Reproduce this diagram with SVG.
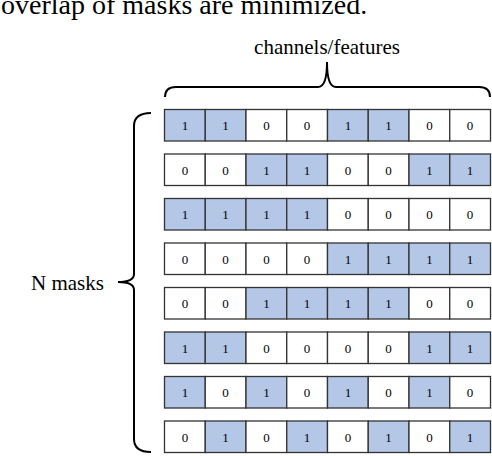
<svg xmlns="http://www.w3.org/2000/svg" width="492" height="456" viewBox="0 0 492 456">
<style>
.t{font-family:"Liberation Serif","Times New Roman",serif;fill:#000}
.c{stroke:#333;stroke-width:1.3}
.z{fill:#fff}
.o{fill:#b4c7e7}
.d{font-family:"Liberation Serif","Times New Roman",serif;font-size:13px;text-anchor:middle;fill:#000}
.br{fill:none;stroke:#000;stroke-width:2}
</style>
<rect width="492" height="456" fill="#fff"/>
<text class="t" x="1" y="13.5" font-size="28">overlap of masks are minimized.</text>
<text class="t" x="327" y="53.5" font-size="21" text-anchor="middle">channels/features</text>
<text class="t" x="31" y="289.5" font-size="21">N masks</text>
<g id="connectors">
<path class="br" d="M165,97 Q165,87 176,87 L318,87 Q327,87 327,62 Q327,87 336,87 L479,87 Q490,87 490,97"/>
<path class="br" d="M151,113 Q134,113 134,126 L134,274 Q134,282 118,282 Q134,282 134,290 L134,439 Q134,452 151,452"/>
</g>
<g id="row1" transform="translate(164.5,109.5)">
<rect class="c o" x="0" width="40.75" height="31.5"/><rect class="c o" x="40.75" width="40.75" height="31.5"/><rect class="c z" x="81.5" width="40.75" height="31.5"/><rect class="c z" x="122.25" width="40.75" height="31.5"/><rect class="c o" x="163" width="40.75" height="31.5"/><rect class="c o" x="203.75" width="40.75" height="31.5"/><rect class="c z" x="244.5" width="40.75" height="31.5"/><rect class="c z" x="285.25" width="40.75" height="31.5"/>
<text class="d" y="20.5"><tspan x="20.4">1</tspan><tspan x="61.1">1</tspan><tspan x="101.9">0</tspan><tspan x="142.6">0</tspan><tspan x="183.4">1</tspan><tspan x="224.1">1</tspan><tspan x="264.9">0</tspan><tspan x="305.6">0</tspan></text>
</g>
<g id="row2" transform="translate(164.5,154)">
<rect class="c z" x="0" width="40.75" height="31.5"/><rect class="c z" x="40.75" width="40.75" height="31.5"/><rect class="c o" x="81.5" width="40.75" height="31.5"/><rect class="c o" x="122.25" width="40.75" height="31.5"/><rect class="c z" x="163" width="40.75" height="31.5"/><rect class="c z" x="203.75" width="40.75" height="31.5"/><rect class="c o" x="244.5" width="40.75" height="31.5"/><rect class="c o" x="285.25" width="40.75" height="31.5"/>
<text class="d" y="20.5"><tspan x="20.4">0</tspan><tspan x="61.1">0</tspan><tspan x="101.9">1</tspan><tspan x="142.6">1</tspan><tspan x="183.4">0</tspan><tspan x="224.1">0</tspan><tspan x="264.9">1</tspan><tspan x="305.6">1</tspan></text>
</g>
<g id="row3" transform="translate(164.5,198.5)">
<rect class="c o" x="0" width="40.75" height="31.5"/><rect class="c o" x="40.75" width="40.75" height="31.5"/><rect class="c o" x="81.5" width="40.75" height="31.5"/><rect class="c o" x="122.25" width="40.75" height="31.5"/><rect class="c z" x="163" width="40.75" height="31.5"/><rect class="c z" x="203.75" width="40.75" height="31.5"/><rect class="c z" x="244.5" width="40.75" height="31.5"/><rect class="c z" x="285.25" width="40.75" height="31.5"/>
<text class="d" y="20.5"><tspan x="20.4">1</tspan><tspan x="61.1">1</tspan><tspan x="101.9">1</tspan><tspan x="142.6">1</tspan><tspan x="183.4">0</tspan><tspan x="224.1">0</tspan><tspan x="264.9">0</tspan><tspan x="305.6">0</tspan></text>
</g>
<g id="row4" transform="translate(164.5,243)">
<rect class="c z" x="0" width="40.75" height="31.5"/><rect class="c z" x="40.75" width="40.75" height="31.5"/><rect class="c z" x="81.5" width="40.75" height="31.5"/><rect class="c z" x="122.25" width="40.75" height="31.5"/><rect class="c o" x="163" width="40.75" height="31.5"/><rect class="c o" x="203.75" width="40.75" height="31.5"/><rect class="c o" x="244.5" width="40.75" height="31.5"/><rect class="c o" x="285.25" width="40.75" height="31.5"/>
<text class="d" y="20.5"><tspan x="20.4">0</tspan><tspan x="61.1">0</tspan><tspan x="101.9">0</tspan><tspan x="142.6">0</tspan><tspan x="183.4">1</tspan><tspan x="224.1">1</tspan><tspan x="264.9">1</tspan><tspan x="305.6">1</tspan></text>
</g>
<g id="row5" transform="translate(164.5,287.5)">
<rect class="c z" x="0" width="40.75" height="31.5"/><rect class="c z" x="40.75" width="40.75" height="31.5"/><rect class="c o" x="81.5" width="40.75" height="31.5"/><rect class="c o" x="122.25" width="40.75" height="31.5"/><rect class="c o" x="163" width="40.75" height="31.5"/><rect class="c o" x="203.75" width="40.75" height="31.5"/><rect class="c z" x="244.5" width="40.75" height="31.5"/><rect class="c z" x="285.25" width="40.75" height="31.5"/>
<text class="d" y="20.5"><tspan x="20.4">0</tspan><tspan x="61.1">0</tspan><tspan x="101.9">1</tspan><tspan x="142.6">1</tspan><tspan x="183.4">1</tspan><tspan x="224.1">1</tspan><tspan x="264.9">0</tspan><tspan x="305.6">0</tspan></text>
</g>
<g id="row6" transform="translate(164.5,332)">
<rect class="c o" x="0" width="40.75" height="31.5"/><rect class="c o" x="40.75" width="40.75" height="31.5"/><rect class="c z" x="81.5" width="40.75" height="31.5"/><rect class="c z" x="122.25" width="40.75" height="31.5"/><rect class="c z" x="163" width="40.75" height="31.5"/><rect class="c z" x="203.75" width="40.75" height="31.5"/><rect class="c o" x="244.5" width="40.75" height="31.5"/><rect class="c o" x="285.25" width="40.75" height="31.5"/>
<text class="d" y="20.5"><tspan x="20.4">1</tspan><tspan x="61.1">1</tspan><tspan x="101.9">0</tspan><tspan x="142.6">0</tspan><tspan x="183.4">0</tspan><tspan x="224.1">0</tspan><tspan x="264.9">1</tspan><tspan x="305.6">1</tspan></text>
</g>
<g id="row7" transform="translate(164.5,376.5)">
<rect class="c o" x="0" width="40.75" height="31.5"/><rect class="c z" x="40.75" width="40.75" height="31.5"/><rect class="c o" x="81.5" width="40.75" height="31.5"/><rect class="c z" x="122.25" width="40.75" height="31.5"/><rect class="c o" x="163" width="40.75" height="31.5"/><rect class="c z" x="203.75" width="40.75" height="31.5"/><rect class="c o" x="244.5" width="40.75" height="31.5"/><rect class="c z" x="285.25" width="40.75" height="31.5"/>
<text class="d" y="20.5"><tspan x="20.4">1</tspan><tspan x="61.1">0</tspan><tspan x="101.9">1</tspan><tspan x="142.6">0</tspan><tspan x="183.4">1</tspan><tspan x="224.1">0</tspan><tspan x="264.9">1</tspan><tspan x="305.6">0</tspan></text>
</g>
<g id="row8" transform="translate(164.5,421)">
<rect class="c z" x="0" width="40.75" height="31.5"/><rect class="c o" x="40.75" width="40.75" height="31.5"/><rect class="c z" x="81.5" width="40.75" height="31.5"/><rect class="c o" x="122.25" width="40.75" height="31.5"/><rect class="c z" x="163" width="40.75" height="31.5"/><rect class="c o" x="203.75" width="40.75" height="31.5"/><rect class="c z" x="244.5" width="40.75" height="31.5"/><rect class="c o" x="285.25" width="40.75" height="31.5"/>
<text class="d" y="20.5"><tspan x="20.4">0</tspan><tspan x="61.1">1</tspan><tspan x="101.9">0</tspan><tspan x="142.6">1</tspan><tspan x="183.4">0</tspan><tspan x="224.1">1</tspan><tspan x="264.9">0</tspan><tspan x="305.6">1</tspan></text>
</g>
</svg>
